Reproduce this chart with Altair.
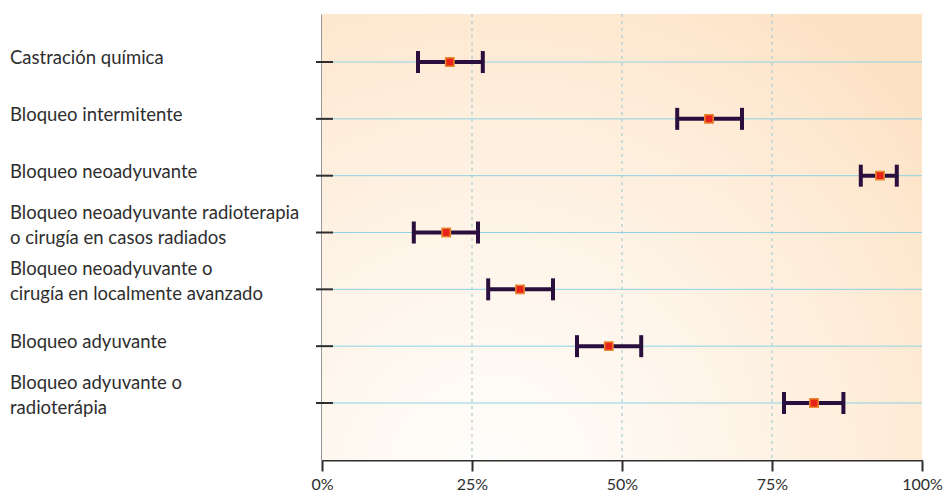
import altair as alt
import pandas as pd

# Treatment categories (top to bottom) with point estimate and interval bounds, in %
labels = [
    "Castración química",
    "Bloqueo intermitente",
    "Bloqueo neoadyuvante",
    "Bloqueo neoadyuvante radioterapia\no cirugía en casos radiados",
    "Bloqueo neoadyuvante o\ncirugía en localmente avanzado",
    "Bloqueo adyuvante",
    "Bloqueo adyuvante o\nradioterápia",
]
lower = [16.0, 59.2, 89.8, 15.3, 27.7, 42.5, 77.0]
estimate = [21.3, 64.5, 93.0, 20.7, 33.0, 47.8, 82.0]
upper = [26.8, 70.0, 95.8, 26.0, 38.5, 53.2, 86.9]

x_ticks = [0, 25, 50, 75, 100]
guide_values = [25, 50, 75]

W, H = 600, 446
FONT = "Lato"
INK = "#2e2e2e"
BAR = "#2a0e3e"

df = pd.DataFrame({
    "label": labels,
    "row": list(range(len(labels))),
    "lower": lower,
    "estimate": estimate,
    "upper": upper,
})
guides = pd.DataFrame({"v": guide_values})

x_scale = alt.Scale(domain=[0, 100], nice=False, zero=False)
y_scale = alt.Scale(domain=[-0.845, 7.003], nice=False, zero=False, reverse=True)

x_axis = alt.Axis(
    values=x_ticks, labelExpr="datum.value + '%'", title=None, grid=False,
    tickSize=11, tickWidth=2, tickColor=INK, domainColor=INK, domainWidth=2,
    labelFont=FONT, labelFontSize=16, labelColor=INK, labelPadding=5,
    labelFlush=False,
)
y_axis = alt.Axis(
    title=None, grid=False, ticks=False, labels=False,
    domainColor=INK, domainWidth=2,
)

# Soft peach backdrop
backdrop = alt.Chart(pd.DataFrame({"a": [0]})).mark_rect(
    fill=alt.RadialGradient(
        gradient="radial",
        x1=0.28, y1=0.9, r1=0.0,
        x2=0.28, y2=0.9, r2=0.95,
        stops=[
            alt.GradientStop(color="#fffefc", offset=0.0),
            alt.GradientStop(color="#fef6ec", offset=0.35),
            alt.GradientStop(color="#feebd6", offset=0.75),
            alt.GradientStop(color="#fde2c4", offset=1.0),
        ],
    )
).encode(x=alt.value(0), x2=alt.value(W), y=alt.value(0), y2=alt.value(H))

# Horizontal row lines (carry both axes)
row_lines = alt.Chart(df).mark_rule(color="#8fd2e4", strokeWidth=1).encode(
    x=alt.datum(0, scale=x_scale, axis=x_axis, type="quantitative"),
    x2=alt.datum(100),
    y=alt.Y("row:Q", scale=y_scale, axis=y_axis),
)

# Dashed vertical guides
vguides = alt.Chart(guides).mark_rule(
    color="#a9cdd6", strokeWidth=1.2, strokeDash=[3, 4]
).encode(
    x=alt.X("v:Q", scale=x_scale),
    y=alt.value(0), y2=alt.value(H),
)

# Small ticks crossing the vertical axis
row_ticks = alt.Chart(df).mark_rule(color=INK, strokeWidth=2).encode(
    x=alt.value(-6), x2=alt.value(11),
    y=alt.Y("row:Q", scale=y_scale),
)

# Interval bars
bars = alt.Chart(df).mark_rule(color=BAR, strokeWidth=4).encode(
    x=alt.X("lower:Q", scale=x_scale),
    x2="upper:Q",
    y=alt.Y("row:Q", scale=y_scale),
)
cap_lo = alt.Chart(df).mark_tick(
    color=BAR, orient="vertical", size=22, thickness=4, opacity=1
).encode(x=alt.X("lower:Q", scale=x_scale), y=alt.Y("row:Q", scale=y_scale))
cap_hi = alt.Chart(df).mark_tick(
    color=BAR, orient="vertical", size=22, thickness=4, opacity=1
).encode(x=alt.X("upper:Q", scale=x_scale), y=alt.Y("row:Q", scale=y_scale))

# Point estimates
points = alt.Chart(df).mark_square(
    size=70, fill="#e8231a", stroke="#e9892e", strokeWidth=1.5, opacity=1
).encode(x=alt.X("estimate:Q", scale=x_scale), y=alt.Y("row:Q", scale=y_scale))


# Category labels at the left; two-line labels are lifted to sit around their row
def name_layer(test, lift):
    return alt.Chart(df).transform_filter(test).mark_text(
        align="left", baseline="middle", dy=lift, font=FONT, fontSize=18.5,
        color=INK, lineBreak="\n", lineHeight=25,
    ).encode(
        x=alt.value(-312),
        y=alt.Y("row:Q", scale=y_scale),
        text="label:N",
    )


names_single = name_layer("indexof(datum.label, '\\n') < 0", -4)
names_double = name_layer("indexof(datum.label, '\\n') >= 0", -20)

chart = alt.layer(
    backdrop, vguides, row_lines, row_ticks, bars, cap_lo, cap_hi, points,
    names_single, names_double,
).properties(
    width=W, height=H,
    autosize=alt.AutoSizeParams(type="none"),
    padding={"left": 322, "top": 14, "right": 26, "bottom": 36},
).configure_view(stroke=None)

chart.save("out.html", embed_options={"renderer": "svg", "actions": False})
